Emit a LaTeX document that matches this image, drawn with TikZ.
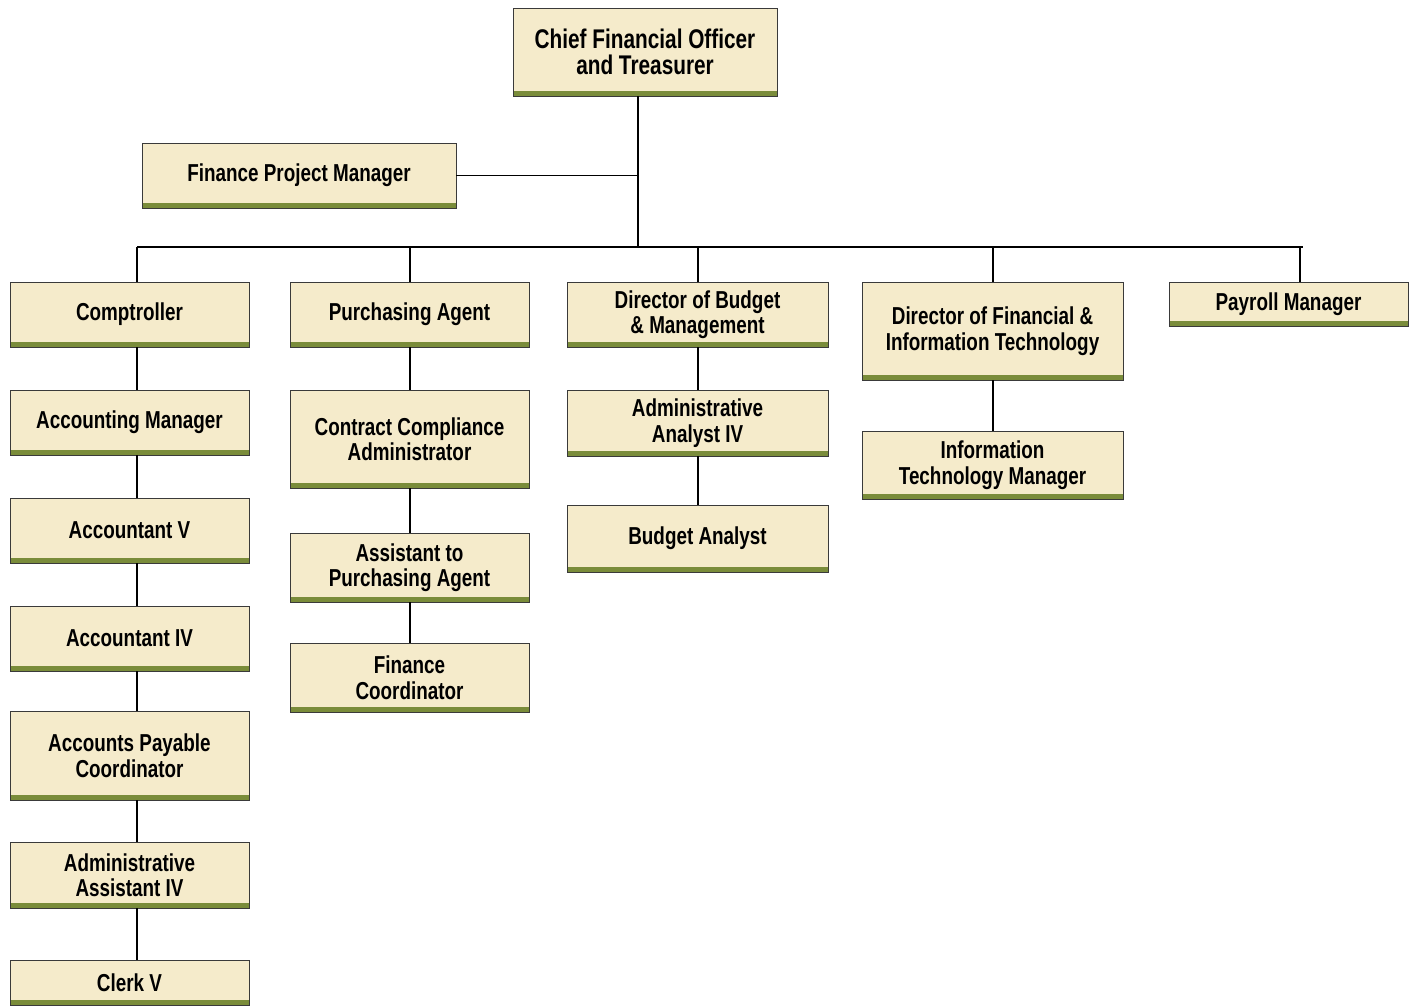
\documentclass[tikz,border=0pt]{standalone}
\usepackage{fontspec}
\setmainfont{Liberation Sans}[FakeStretch=0.77]
\begin{document}
\definecolor{boxfill}{HTML}{F5EBCB}
\definecolor{barcol}{HTML}{7A8C3A}
\definecolor{edge}{HTML}{3A3A3A}
\tikzset{
  post/.style={draw=edge, line width=0.9pt, fill=boxfill, anchor=north west,
    align=center, inner sep=0pt, outer sep=0pt, font=\bfseries\fontsize{24.5}{25.5}\selectfont,
    path picture={\fill[barcol] ([yshift=5.5pt]path picture bounding box.south west)
      rectangle (path picture bounding box.south east);}},
  link/.style={draw=black, line width=1.1pt}
}
\begin{tikzpicture}[x=1pt,y=-1pt]
\useasboundingbox (0,0) rectangle (1416,1005);
% top of the chart
\node[post, minimum width=264pt, minimum height=88pt, font=\bfseries\fontsize{27}{26.5}\selectfont] (cfo) at (513,8) {Chief Financial Officer\\and Treasurer};
\node[post, minimum width=314pt, minimum height=65pt] (fpm) at (142,143) {Finance Project Manager};
% bus points
\coordinate (trunk) at (638,247);
\coordinate (b1) at (137,247);
\coordinate (b2) at (410,247);
\coordinate (b3) at (698,247);
\coordinate (b4) at (993,247);
\coordinate (b5) at (1300,247);
\coordinate (bend) at (1303,247);
% division heads
\node[post, minimum width=239pt, minimum height=65pt] (comp) at (10,282) {Comptroller};
\node[post, minimum width=239pt, minimum height=65pt] (pa) at (290,282) {Purchasing Agent};
\node[post, minimum width=261pt, minimum height=65pt] (dbm) at (567,282) {Director of Budget\\\& Management};
\node[post, minimum width=261pt, minimum height=98pt] (dfit) at (862,282) {Director of Financial \&\\Information Technology};
\node[post, minimum width=239pt, minimum height=44pt] (pm) at (1169,282) {Payroll Manager};
% comptroller column
\node[post, minimum width=239pt, minimum height=65pt] (accm) at (10,390) {Accounting Manager};
\node[post, minimum width=239pt, minimum height=65pt] (acc5) at (10,498) {Accountant V};
\node[post, minimum width=239pt, minimum height=65pt] (acc4) at (10,606) {Accountant IV};
\node[post, minimum width=239pt, minimum height=89pt] (apc) at (10,711) {Accounts Payable\\Coordinator};
\node[post, minimum width=239pt, minimum height=66pt] (aa4) at (10,842) {Administrative\\Assistant IV};
\node[post, minimum width=239pt, minimum height=45pt] (clerk) at (10,960) {Clerk V};
% purchasing column
\node[post, minimum width=239pt, minimum height=98pt] (cca) at (290,390) {Contract Compliance\\Administrator};
\node[post, minimum width=239pt, minimum height=69pt] (apa) at (290,533) {Assistant to\\Purchasing Agent};
\node[post, minimum width=239pt, minimum height=69pt] (fc) at (290,643) {Finance\\Coordinator};
% budget column
\node[post, minimum width=261pt, minimum height=66pt] (aa) at (567,390) {Administrative\\Analyst IV};
\node[post, minimum width=261pt, minimum height=67pt] (ba) at (567,505) {Budget Analyst};
% IT column
\node[post, minimum width=261pt, minimum height=68pt] (itm) at (862,431) {Information\\Technology Manager};
% connectors
\draw[link] (cfo.south -| trunk) -- (trunk);
\draw[link] (fpm.east) -- (fpm.east -| trunk);
\draw[link] (b1) -- (bend);
\draw[link] (b1) -- (comp.north -| b1);
\draw[link] (b2) -- (pa.north -| b2);
\draw[link] (b3) -- (dbm.north -| b3);
\draw[link] (b4) -- (dfit.north -| b4);
\draw[link] (b5) -- (pm.north -| b5);
\draw[link] (comp.south -| b1) -- (accm.north -| b1);
\draw[link] (accm.south -| b1) -- (acc5.north -| b1);
\draw[link] (acc5.south -| b1) -- (acc4.north -| b1);
\draw[link] (acc4.south -| b1) -- (apc.north -| b1);
\draw[link] (apc.south -| b1) -- (aa4.north -| b1);
\draw[link] (aa4.south -| b1) -- (clerk.north -| b1);
\draw[link] (pa.south -| b2) -- (cca.north -| b2);
\draw[link] (cca.south -| b2) -- (apa.north -| b2);
\draw[link] (apa.south -| b2) -- (fc.north -| b2);
\draw[link] (dbm.south -| b3) -- (aa.north -| b3);
\draw[link] (aa.south -| b3) -- (ba.north -| b3);
\draw[link] (dfit.south -| b4) -- (itm.north -| b4);
\end{tikzpicture}
\end{document}
